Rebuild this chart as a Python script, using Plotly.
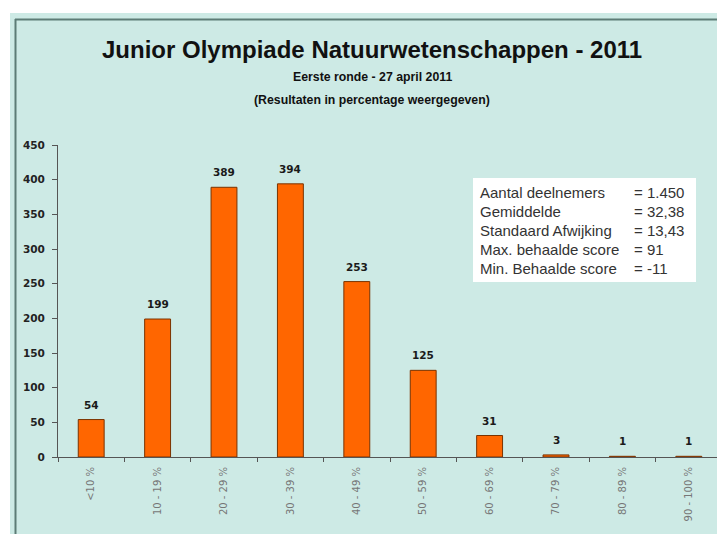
import plotly.graph_objects as go

categories = ["<10 %", "10 - 19 %", "20 - 29 %", "30 - 39 %", "40 - 49 %",
              "50 - 59 %", "60 - 69 %", "70 - 79 %", "80 - 89 %", "90 - 100 %"]
counts = [54, 199, 389, 394, 253, 125, 31, 3, 1, 1]
y_ticks = [0, 50, 100, 150, 200, 250, 300, 350, 400, 450]

title = "Junior Olympiade Natuurwetenschappen - 2011"
subtitle1 = "Eerste ronde - 27 april 2011"
subtitle2 = "(Resultaten in percentage weergegeven)"
stat_labels = ["Aantal deelnemers", "Gemiddelde", "Standaard Afwijking",
               "Max. behaalde score", "Min. Behaalde score"]
stat_values = ["= 1.450", "= 32,38", "= 13,43", "= 91", "= -11"]

OFF = 8  # page body margin offset
W, H = 725 - OFF, 534 - OFF
L, R, T, B = 58 - OFF, 3, 145 - OFF, 77
pw, ph = W - L - R, H - T - B

def px(x):
    return (x - OFF - L) / pw

def py(y):
    return (H - B - (y - OFF)) / ph

FONT = "Liberation Sans, Arial, sans-serif"
WIDE = "DejaVu Sans, Verdana, sans-serif"
TEAL = "#cdeae5"

fig = go.Figure()
fig.add_trace(go.Bar(
    x=categories, y=counts, width=0.39,
    marker=dict(color="#ff6600", line=dict(color="#7a3300", width=1)),
    hoverinfo="x+y",
))

shapes = [
    dict(type="rect", xref="paper", yref="paper", layer="below",
         x0=px(10), x1=px(740), y0=py(545), y1=py(13),
         fillcolor=TEAL, line=dict(width=0)),
    dict(type="line", xref="paper", yref="paper", layer="below",
         x0=px(15.5), x1=px(15.5), y0=py(545), y1=py(19),
         line=dict(color="#5d7c76", width=2)),
    dict(type="line", xref="paper", yref="paper", layer="below",
         x0=px(15), x1=px(740), y0=py(19.5), y1=py(19.5),
         line=dict(color="#5d7c76", width=2)),
    dict(type="rect", xref="paper", yref="paper", layer="above",
         x0=px(473), x1=px(696), y0=py(282), y1=py(178),
         fillcolor="white", line=dict(width=0)),
]

annotations = [
    dict(text=title, x=px(372), y=py(50), xref="paper", yref="paper",
         showarrow=False, xanchor="center", yanchor="middle",
         font=dict(family=FONT, size=24, color="#111", weight="bold")),
    dict(text=subtitle1, x=px(372), y=py(77), xref="paper", yref="paper",
         showarrow=False, xanchor="center", yanchor="middle",
         font=dict(family=FONT, size=12.3, color="#111", weight="bold")),
    dict(text=subtitle2, x=px(372), y=py(100), xref="paper", yref="paper",
         showarrow=False, xanchor="center", yanchor="middle",
         font=dict(family=FONT, size=12.3, color="#111", weight="bold")),
]
for cat, v in zip(categories, counts):
    annotations.append(dict(text=str(v), x=cat, y=v, xref="x", yref="y",
                            showarrow=False, xanchor="center", yanchor="middle",
                            yshift=15,
                            font=dict(family=WIDE, size=10.5, color="#1a1a1a",
                                      weight="bold")))
line_y = [192, 211, 230, 249, 268]
for lab, val, yy in zip(stat_labels, stat_values, line_y):
    annotations.append(dict(text=lab, x=px(478), y=py(yy), xref="paper", yref="paper",
                            showarrow=False, xanchor="left", yanchor="middle",
                            font=dict(family=FONT, size=15, color="#333")))
    annotations.append(dict(text=val, x=px(632), y=py(yy), xref="paper", yref="paper",
                            showarrow=False, xanchor="left", yanchor="middle",
                            font=dict(family=FONT, size=15, color="#333")))

fig.update_layout(
    width=W, height=H,
    margin=dict(l=L, r=R, t=T, b=B, pad=0),
    paper_bgcolor="white", plot_bgcolor="rgba(0,0,0,0)",
    showlegend=False,
    shapes=shapes, annotations=annotations,
    xaxis=dict(
        tickangle=-90, showgrid=False, showline=True, linecolor="#555", linewidth=1,
        ticks="outside", tickson="boundaries", ticklen=4, tickcolor="#555",
        ticklabelstandoff=5,
        tickfont=dict(family=WIDE, size=10, color="#777"),
    ),
    yaxis=dict(
        range=[0, 450], tickvals=y_ticks, showgrid=False, zeroline=False,
        showline=True, linecolor="#555", linewidth=1,
        ticks="outside", ticklen=5, tickcolor="#555",
        ticklabelstandoff=5,
        tickfont=dict(family=WIDE, size=10.5, color="#222", weight="bold"),
    ),
)

fig.write_html("out.html")
